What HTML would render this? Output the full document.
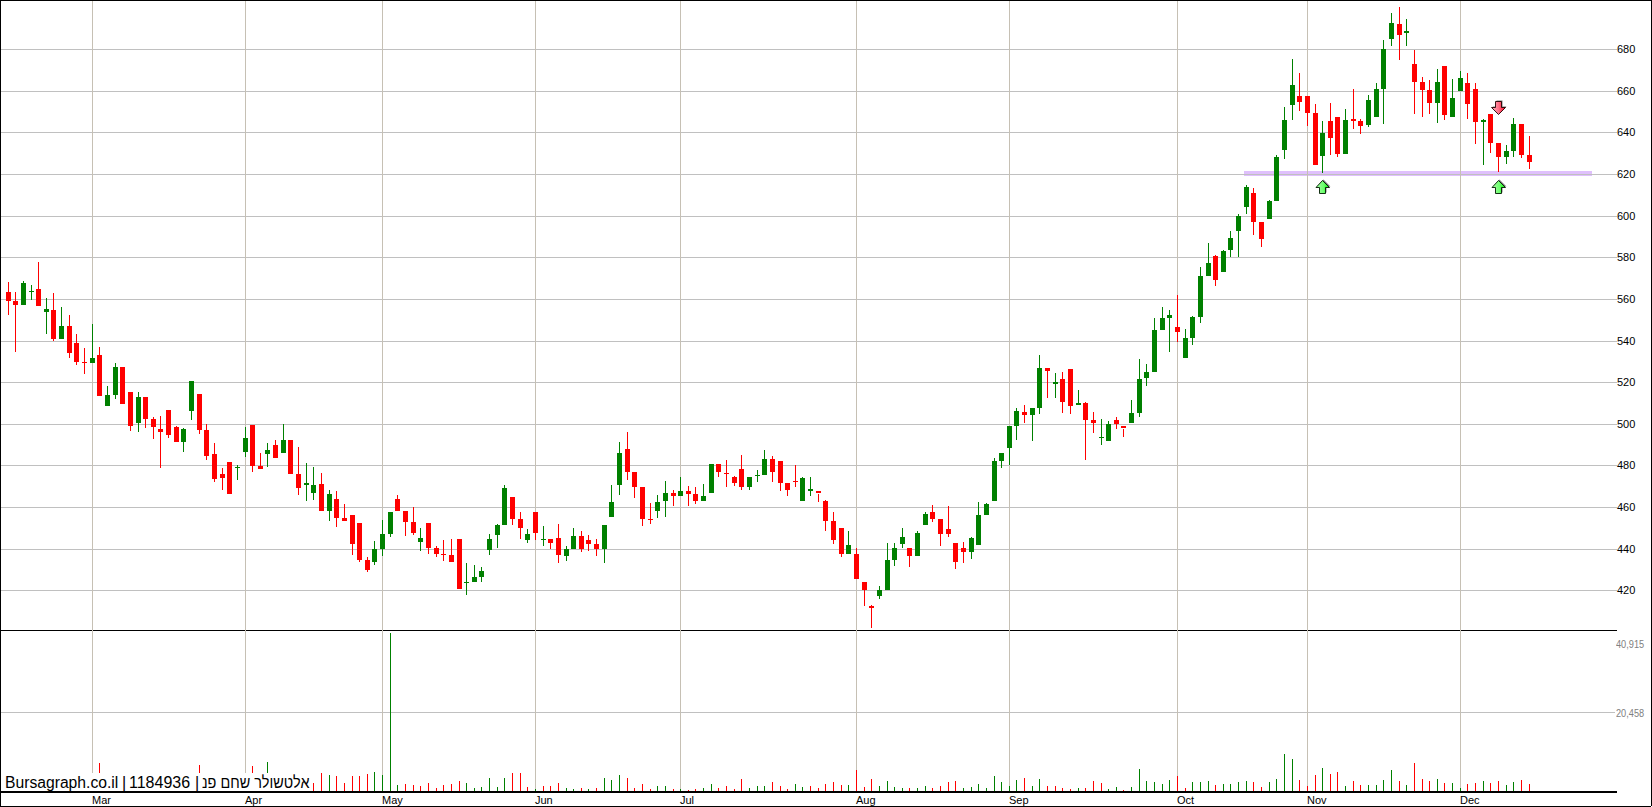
<!DOCTYPE html>
<html><head><meta charset="utf-8">
<style>
html,body{margin:0;padding:0;background:#fff;}
body{width:1652px;height:807px;position:relative;overflow:hidden;font-family:"Liberation Sans",sans-serif;}
svg{position:absolute;left:0;top:0;}
.pl{position:absolute;left:1617px;font-size:11px;line-height:14px;color:#000;white-space:nowrap;}
.vl{position:absolute;left:1616px;font-size:10px;line-height:14px;color:#808080;white-space:nowrap;transform:scaleX(0.92);transform-origin:0 0;}
.ml{position:absolute;top:794px;font-size:11px;line-height:13px;color:#000;white-space:nowrap;}
.wm{position:absolute;left:1px;top:773px;width:311px;height:18px;background:#fff;}
.wmt{position:absolute;top:773px;font-size:16px;line-height:20px;color:#000;white-space:nowrap;}
.border{position:absolute;left:0;top:0;width:1650px;height:805px;border:1px solid #000;}
.arr{position:absolute;}
</style></head><body>
<svg width="1652" height="807" shape-rendering="crispEdges">
<rect x="0" y="0" width="1652" height="807" fill="#fff"/>
<rect x="1244" y="171" width="348" height="5" fill="#dfc0fc"/>
<rect x="1" y="49" width="1616" height="1" fill="#c0c0c0"/>
<rect x="1" y="91" width="1616" height="1" fill="#c0c0c0"/>
<rect x="1" y="132" width="1616" height="1" fill="#c0c0c0"/>
<rect x="1" y="174" width="1616" height="1" fill="#c0c0c0"/>
<rect x="1" y="216" width="1616" height="1" fill="#c0c0c0"/>
<rect x="1" y="257" width="1616" height="1" fill="#c0c0c0"/>
<rect x="1" y="299" width="1616" height="1" fill="#c0c0c0"/>
<rect x="1" y="341" width="1616" height="1" fill="#c0c0c0"/>
<rect x="1" y="382" width="1616" height="1" fill="#c0c0c0"/>
<rect x="1" y="424" width="1616" height="1" fill="#c0c0c0"/>
<rect x="1" y="465" width="1616" height="1" fill="#c0c0c0"/>
<rect x="1" y="507" width="1616" height="1" fill="#c0c0c0"/>
<rect x="1" y="549" width="1616" height="1" fill="#c0c0c0"/>
<rect x="1" y="590" width="1616" height="1" fill="#c0c0c0"/>
<rect x="1" y="712" width="1614" height="1" fill="#c0c0c0"/>
<rect x="0" y="630" width="1617" height="1" fill="#000"/>
<rect x="0" y="791" width="1617" height="2" fill="#000"/>
<rect x="92" y="1" width="1" height="790" fill="#c6c0b4"/>
<rect x="245" y="1" width="1" height="790" fill="#c6c0b4"/>
<rect x="382" y="1" width="1" height="790" fill="#c6c0b4"/>
<rect x="535" y="1" width="1" height="790" fill="#c6c0b4"/>
<rect x="680" y="1" width="1" height="790" fill="#c6c0b4"/>
<rect x="856" y="1" width="1" height="790" fill="#c6c0b4"/>
<rect x="1009" y="1" width="1" height="790" fill="#c6c0b4"/>
<rect x="1177" y="1" width="1" height="790" fill="#c6c0b4"/>
<rect x="1307" y="1" width="1" height="790" fill="#c6c0b4"/>
<rect x="1460" y="1" width="1" height="790" fill="#c6c0b4"/>
<rect x="8" y="282" width="1" height="33" fill="#ff0000"/>
<rect x="6" y="292" width="5" height="9" fill="#ff0000"/>
<rect x="15" y="292" width="1" height="60" fill="#ff0000"/>
<rect x="13" y="301" width="5" height="4" fill="#ff0000"/>
<rect x="23" y="281" width="1" height="24" fill="#008000"/>
<rect x="21" y="283" width="5" height="22" fill="#008000"/>
<rect x="31" y="285" width="1" height="15" fill="#008000"/>
<rect x="29" y="291" width="5" height="1" fill="#008000"/>
<rect x="38" y="262" width="1" height="44" fill="#ff0000"/>
<rect x="36" y="289" width="5" height="17" fill="#ff0000"/>
<rect x="46" y="298" width="1" height="36" fill="#008000"/>
<rect x="44" y="309" width="5" height="3" fill="#008000"/>
<rect x="53" y="293" width="1" height="48" fill="#ff0000"/>
<rect x="51" y="310" width="5" height="29" fill="#ff0000"/>
<rect x="61" y="307" width="1" height="32" fill="#008000"/>
<rect x="59" y="326" width="5" height="13" fill="#008000"/>
<rect x="69" y="315" width="1" height="43" fill="#ff0000"/>
<rect x="67" y="326" width="5" height="27" fill="#ff0000"/>
<rect x="76" y="334" width="1" height="31" fill="#ff0000"/>
<rect x="74" y="343" width="5" height="19" fill="#ff0000"/>
<rect x="84" y="348" width="1" height="26" fill="#ff0000"/>
<rect x="82" y="362" width="5" height="1" fill="#ff0000"/>
<rect x="92" y="324" width="1" height="39" fill="#008000"/>
<rect x="90" y="358" width="5" height="5" fill="#008000"/>
<rect x="99" y="347" width="1" height="49" fill="#ff0000"/>
<rect x="97" y="355" width="5" height="41" fill="#ff0000"/>
<rect x="107" y="386" width="1" height="20" fill="#008000"/>
<rect x="105" y="395" width="5" height="11" fill="#008000"/>
<rect x="115" y="363" width="1" height="36" fill="#008000"/>
<rect x="113" y="367" width="5" height="28" fill="#008000"/>
<rect x="122" y="367" width="1" height="37" fill="#ff0000"/>
<rect x="120" y="367" width="5" height="37" fill="#ff0000"/>
<rect x="130" y="392" width="1" height="39" fill="#ff0000"/>
<rect x="128" y="392" width="5" height="34" fill="#ff0000"/>
<rect x="138" y="392" width="1" height="40" fill="#008000"/>
<rect x="136" y="397" width="5" height="26" fill="#008000"/>
<rect x="145" y="397" width="1" height="31" fill="#ff0000"/>
<rect x="143" y="397" width="5" height="22" fill="#ff0000"/>
<rect x="153" y="417" width="1" height="22" fill="#ff0000"/>
<rect x="151" y="419" width="5" height="8" fill="#ff0000"/>
<rect x="160" y="416" width="1" height="52" fill="#ff0000"/>
<rect x="158" y="429" width="5" height="3" fill="#ff0000"/>
<rect x="168" y="410" width="1" height="28" fill="#ff0000"/>
<rect x="166" y="410" width="5" height="25" fill="#ff0000"/>
<rect x="176" y="426" width="1" height="16" fill="#ff0000"/>
<rect x="174" y="427" width="5" height="15" fill="#ff0000"/>
<rect x="183" y="428" width="1" height="24" fill="#008000"/>
<rect x="181" y="429" width="5" height="13" fill="#008000"/>
<rect x="191" y="381" width="1" height="39" fill="#008000"/>
<rect x="189" y="381" width="5" height="30" fill="#008000"/>
<rect x="199" y="394" width="1" height="40" fill="#ff0000"/>
<rect x="197" y="394" width="5" height="36" fill="#ff0000"/>
<rect x="206" y="424" width="1" height="36" fill="#ff0000"/>
<rect x="204" y="430" width="5" height="26" fill="#ff0000"/>
<rect x="214" y="443" width="1" height="39" fill="#ff0000"/>
<rect x="212" y="454" width="5" height="25" fill="#ff0000"/>
<rect x="222" y="468" width="1" height="22" fill="#ff0000"/>
<rect x="220" y="474" width="5" height="4" fill="#ff0000"/>
<rect x="229" y="462" width="1" height="32" fill="#ff0000"/>
<rect x="227" y="462" width="5" height="32" fill="#ff0000"/>
<rect x="237" y="465" width="1" height="15" fill="#008000"/>
<rect x="235" y="467" width="5" height="1" fill="#008000"/>
<rect x="245" y="427" width="1" height="30" fill="#008000"/>
<rect x="243" y="438" width="5" height="14" fill="#008000"/>
<rect x="252" y="425" width="1" height="47" fill="#ff0000"/>
<rect x="250" y="425" width="5" height="41" fill="#ff0000"/>
<rect x="260" y="453" width="1" height="16" fill="#ff0000"/>
<rect x="258" y="466" width="5" height="3" fill="#ff0000"/>
<rect x="267" y="443" width="1" height="24" fill="#008000"/>
<rect x="265" y="450" width="5" height="4" fill="#008000"/>
<rect x="275" y="440" width="1" height="18" fill="#ff0000"/>
<rect x="273" y="445" width="5" height="13" fill="#ff0000"/>
<rect x="283" y="424" width="1" height="29" fill="#008000"/>
<rect x="281" y="440" width="5" height="13" fill="#008000"/>
<rect x="290" y="440" width="1" height="34" fill="#ff0000"/>
<rect x="288" y="440" width="5" height="34" fill="#ff0000"/>
<rect x="298" y="447" width="1" height="48" fill="#ff0000"/>
<rect x="296" y="474" width="5" height="14" fill="#ff0000"/>
<rect x="306" y="463" width="1" height="38" fill="#008000"/>
<rect x="304" y="483" width="5" height="2" fill="#008000"/>
<rect x="313" y="467" width="1" height="33" fill="#008000"/>
<rect x="311" y="485" width="5" height="8" fill="#008000"/>
<rect x="321" y="473" width="1" height="38" fill="#ff0000"/>
<rect x="319" y="484" width="5" height="27" fill="#ff0000"/>
<rect x="329" y="490" width="1" height="31" fill="#008000"/>
<rect x="327" y="494" width="5" height="17" fill="#008000"/>
<rect x="336" y="491" width="1" height="36" fill="#ff0000"/>
<rect x="334" y="499" width="5" height="19" fill="#ff0000"/>
<rect x="344" y="504" width="1" height="17" fill="#ff0000"/>
<rect x="342" y="518" width="5" height="3" fill="#ff0000"/>
<rect x="352" y="515" width="1" height="40" fill="#ff0000"/>
<rect x="350" y="515" width="5" height="29" fill="#ff0000"/>
<rect x="359" y="523" width="1" height="39" fill="#ff0000"/>
<rect x="357" y="523" width="5" height="37" fill="#ff0000"/>
<rect x="367" y="557" width="1" height="15" fill="#ff0000"/>
<rect x="365" y="560" width="5" height="10" fill="#ff0000"/>
<rect x="374" y="541" width="1" height="24" fill="#008000"/>
<rect x="372" y="549" width="5" height="13" fill="#008000"/>
<rect x="382" y="520" width="1" height="36" fill="#008000"/>
<rect x="380" y="534" width="5" height="15" fill="#008000"/>
<rect x="390" y="512" width="1" height="25" fill="#008000"/>
<rect x="388" y="512" width="5" height="22" fill="#008000"/>
<rect x="397" y="495" width="1" height="16" fill="#ff0000"/>
<rect x="395" y="499" width="5" height="12" fill="#ff0000"/>
<rect x="405" y="511" width="1" height="25" fill="#ff0000"/>
<rect x="403" y="511" width="5" height="11" fill="#ff0000"/>
<rect x="413" y="507" width="1" height="28" fill="#ff0000"/>
<rect x="411" y="522" width="5" height="11" fill="#ff0000"/>
<rect x="420" y="528" width="1" height="23" fill="#008000"/>
<rect x="418" y="538" width="5" height="4" fill="#008000"/>
<rect x="428" y="523" width="1" height="31" fill="#ff0000"/>
<rect x="426" y="523" width="5" height="25" fill="#ff0000"/>
<rect x="436" y="546" width="1" height="11" fill="#ff0000"/>
<rect x="434" y="548" width="5" height="6" fill="#ff0000"/>
<rect x="443" y="540" width="1" height="21" fill="#ff0000"/>
<rect x="441" y="554" width="5" height="1" fill="#ff0000"/>
<rect x="451" y="539" width="1" height="23" fill="#ff0000"/>
<rect x="449" y="555" width="5" height="7" fill="#ff0000"/>
<rect x="459" y="539" width="1" height="50" fill="#ff0000"/>
<rect x="457" y="539" width="5" height="50" fill="#ff0000"/>
<rect x="466" y="563" width="1" height="32" fill="#008000"/>
<rect x="464" y="582" width="5" height="1" fill="#008000"/>
<rect x="474" y="565" width="1" height="17" fill="#008000"/>
<rect x="472" y="577" width="5" height="5" fill="#008000"/>
<rect x="481" y="567" width="1" height="15" fill="#008000"/>
<rect x="479" y="571" width="5" height="6" fill="#008000"/>
<rect x="489" y="534" width="1" height="21" fill="#008000"/>
<rect x="487" y="539" width="5" height="11" fill="#008000"/>
<rect x="497" y="524" width="1" height="24" fill="#008000"/>
<rect x="495" y="525" width="5" height="10" fill="#008000"/>
<rect x="504" y="485" width="1" height="40" fill="#008000"/>
<rect x="502" y="488" width="5" height="37" fill="#008000"/>
<rect x="512" y="497" width="1" height="28" fill="#ff0000"/>
<rect x="510" y="497" width="5" height="22" fill="#ff0000"/>
<rect x="520" y="512" width="1" height="27" fill="#ff0000"/>
<rect x="518" y="519" width="5" height="9" fill="#ff0000"/>
<rect x="527" y="529" width="1" height="14" fill="#008000"/>
<rect x="525" y="534" width="5" height="6" fill="#008000"/>
<rect x="535" y="512" width="1" height="28" fill="#ff0000"/>
<rect x="533" y="512" width="5" height="21" fill="#ff0000"/>
<rect x="543" y="526" width="1" height="20" fill="#008000"/>
<rect x="541" y="539" width="5" height="1" fill="#008000"/>
<rect x="550" y="539" width="1" height="10" fill="#ff0000"/>
<rect x="548" y="539" width="5" height="4" fill="#ff0000"/>
<rect x="558" y="524" width="1" height="39" fill="#ff0000"/>
<rect x="556" y="538" width="5" height="17" fill="#ff0000"/>
<rect x="566" y="546" width="1" height="15" fill="#008000"/>
<rect x="564" y="549" width="5" height="7" fill="#008000"/>
<rect x="573" y="528" width="1" height="21" fill="#008000"/>
<rect x="571" y="536" width="5" height="13" fill="#008000"/>
<rect x="581" y="531" width="1" height="21" fill="#ff0000"/>
<rect x="579" y="536" width="5" height="13" fill="#ff0000"/>
<rect x="588" y="535" width="1" height="16" fill="#ff0000"/>
<rect x="586" y="540" width="5" height="4" fill="#ff0000"/>
<rect x="596" y="539" width="1" height="17" fill="#ff0000"/>
<rect x="594" y="544" width="5" height="5" fill="#ff0000"/>
<rect x="604" y="525" width="1" height="38" fill="#008000"/>
<rect x="602" y="525" width="5" height="24" fill="#008000"/>
<rect x="611" y="485" width="1" height="32" fill="#008000"/>
<rect x="609" y="502" width="5" height="15" fill="#008000"/>
<rect x="619" y="442" width="1" height="53" fill="#008000"/>
<rect x="617" y="453" width="5" height="32" fill="#008000"/>
<rect x="627" y="432" width="1" height="48" fill="#ff0000"/>
<rect x="625" y="449" width="5" height="23" fill="#ff0000"/>
<rect x="634" y="472" width="1" height="26" fill="#ff0000"/>
<rect x="632" y="472" width="5" height="15" fill="#ff0000"/>
<rect x="642" y="487" width="1" height="39" fill="#ff0000"/>
<rect x="640" y="487" width="5" height="32" fill="#ff0000"/>
<rect x="650" y="503" width="1" height="21" fill="#ff0000"/>
<rect x="648" y="519" width="5" height="1" fill="#ff0000"/>
<rect x="657" y="495" width="1" height="23" fill="#008000"/>
<rect x="655" y="502" width="5" height="9" fill="#008000"/>
<rect x="665" y="481" width="1" height="36" fill="#008000"/>
<rect x="663" y="493" width="5" height="8" fill="#008000"/>
<rect x="673" y="490" width="1" height="16" fill="#ff0000"/>
<rect x="671" y="493" width="5" height="3" fill="#ff0000"/>
<rect x="680" y="477" width="1" height="19" fill="#008000"/>
<rect x="678" y="491" width="5" height="5" fill="#008000"/>
<rect x="688" y="486" width="1" height="20" fill="#ff0000"/>
<rect x="686" y="491" width="5" height="3" fill="#ff0000"/>
<rect x="695" y="487" width="1" height="17" fill="#ff0000"/>
<rect x="693" y="494" width="5" height="7" fill="#ff0000"/>
<rect x="703" y="484" width="1" height="17" fill="#008000"/>
<rect x="701" y="496" width="5" height="5" fill="#008000"/>
<rect x="711" y="464" width="1" height="29" fill="#008000"/>
<rect x="709" y="464" width="5" height="29" fill="#008000"/>
<rect x="718" y="464" width="1" height="13" fill="#ff0000"/>
<rect x="716" y="464" width="5" height="8" fill="#ff0000"/>
<rect x="726" y="460" width="1" height="27" fill="#ff0000"/>
<rect x="724" y="473" width="5" height="1" fill="#ff0000"/>
<rect x="734" y="476" width="1" height="10" fill="#ff0000"/>
<rect x="732" y="477" width="5" height="6" fill="#ff0000"/>
<rect x="741" y="455" width="1" height="35" fill="#ff0000"/>
<rect x="739" y="469" width="5" height="18" fill="#ff0000"/>
<rect x="749" y="477" width="1" height="13" fill="#008000"/>
<rect x="747" y="477" width="5" height="10" fill="#008000"/>
<rect x="757" y="470" width="1" height="12" fill="#008000"/>
<rect x="755" y="475" width="5" height="1" fill="#008000"/>
<rect x="764" y="450" width="1" height="25" fill="#008000"/>
<rect x="762" y="459" width="5" height="16" fill="#008000"/>
<rect x="772" y="456" width="1" height="26" fill="#ff0000"/>
<rect x="770" y="459" width="5" height="13" fill="#ff0000"/>
<rect x="780" y="461" width="1" height="30" fill="#ff0000"/>
<rect x="778" y="461" width="5" height="22" fill="#ff0000"/>
<rect x="787" y="483" width="1" height="13" fill="#ff0000"/>
<rect x="785" y="483" width="5" height="7" fill="#ff0000"/>
<rect x="795" y="465" width="1" height="22" fill="#ff0000"/>
<rect x="793" y="481" width="5" height="1" fill="#ff0000"/>
<rect x="802" y="477" width="1" height="24" fill="#008000"/>
<rect x="800" y="478" width="5" height="23" fill="#008000"/>
<rect x="810" y="477" width="1" height="19" fill="#008000"/>
<rect x="808" y="489" width="5" height="2" fill="#008000"/>
<rect x="818" y="494" width="1" height="8" fill="#ff0000"/>
<rect x="816" y="491" width="5" height="2" fill="#ff0000"/>
<rect x="825" y="500" width="1" height="31" fill="#ff0000"/>
<rect x="823" y="501" width="5" height="20" fill="#ff0000"/>
<rect x="833" y="512" width="1" height="32" fill="#ff0000"/>
<rect x="831" y="521" width="5" height="19" fill="#ff0000"/>
<rect x="841" y="528" width="1" height="29" fill="#ff0000"/>
<rect x="839" y="528" width="5" height="26" fill="#ff0000"/>
<rect x="848" y="531" width="1" height="23" fill="#008000"/>
<rect x="846" y="545" width="5" height="9" fill="#008000"/>
<rect x="856" y="548" width="1" height="31" fill="#ff0000"/>
<rect x="854" y="554" width="5" height="25" fill="#ff0000"/>
<rect x="864" y="582" width="1" height="24" fill="#ff0000"/>
<rect x="862" y="582" width="5" height="8" fill="#ff0000"/>
<rect x="871" y="605" width="1" height="23" fill="#ff0000"/>
<rect x="869" y="606" width="5" height="2" fill="#ff0000"/>
<rect x="879" y="586" width="1" height="13" fill="#008000"/>
<rect x="877" y="590" width="5" height="6" fill="#008000"/>
<rect x="887" y="543" width="1" height="47" fill="#008000"/>
<rect x="885" y="560" width="5" height="30" fill="#008000"/>
<rect x="894" y="543" width="1" height="23" fill="#008000"/>
<rect x="892" y="548" width="5" height="12" fill="#008000"/>
<rect x="902" y="528" width="1" height="20" fill="#008000"/>
<rect x="900" y="537" width="5" height="7" fill="#008000"/>
<rect x="909" y="548" width="1" height="19" fill="#ff0000"/>
<rect x="907" y="548" width="5" height="8" fill="#ff0000"/>
<rect x="917" y="531" width="1" height="25" fill="#008000"/>
<rect x="915" y="533" width="5" height="23" fill="#008000"/>
<rect x="925" y="512" width="1" height="13" fill="#008000"/>
<rect x="923" y="514" width="5" height="11" fill="#008000"/>
<rect x="932" y="505" width="1" height="17" fill="#ff0000"/>
<rect x="930" y="512" width="5" height="7" fill="#ff0000"/>
<rect x="940" y="519" width="1" height="27" fill="#ff0000"/>
<rect x="938" y="519" width="5" height="15" fill="#ff0000"/>
<rect x="948" y="506" width="1" height="31" fill="#ff0000"/>
<rect x="946" y="529" width="5" height="5" fill="#ff0000"/>
<rect x="955" y="543" width="1" height="26" fill="#ff0000"/>
<rect x="953" y="543" width="5" height="19" fill="#ff0000"/>
<rect x="963" y="542" width="1" height="21" fill="#ff0000"/>
<rect x="961" y="548" width="5" height="4" fill="#ff0000"/>
<rect x="971" y="537" width="1" height="22" fill="#008000"/>
<rect x="969" y="538" width="5" height="14" fill="#008000"/>
<rect x="978" y="502" width="1" height="43" fill="#008000"/>
<rect x="976" y="515" width="5" height="30" fill="#008000"/>
<rect x="986" y="503" width="1" height="12" fill="#008000"/>
<rect x="984" y="504" width="5" height="11" fill="#008000"/>
<rect x="994" y="458" width="1" height="43" fill="#008000"/>
<rect x="992" y="461" width="5" height="40" fill="#008000"/>
<rect x="1001" y="453" width="1" height="15" fill="#008000"/>
<rect x="999" y="453" width="5" height="8" fill="#008000"/>
<rect x="1009" y="426" width="1" height="39" fill="#008000"/>
<rect x="1007" y="426" width="5" height="22" fill="#008000"/>
<rect x="1016" y="408" width="1" height="32" fill="#008000"/>
<rect x="1014" y="411" width="5" height="15" fill="#008000"/>
<rect x="1024" y="405" width="1" height="18" fill="#ff0000"/>
<rect x="1022" y="412" width="5" height="3" fill="#ff0000"/>
<rect x="1032" y="408" width="1" height="33" fill="#008000"/>
<rect x="1030" y="408" width="5" height="7" fill="#008000"/>
<rect x="1039" y="355" width="1" height="59" fill="#008000"/>
<rect x="1037" y="368" width="5" height="40" fill="#008000"/>
<rect x="1047" y="368" width="1" height="30" fill="#ff0000"/>
<rect x="1045" y="368" width="5" height="3" fill="#ff0000"/>
<rect x="1055" y="373" width="1" height="25" fill="#008000"/>
<rect x="1053" y="382" width="5" height="2" fill="#008000"/>
<rect x="1062" y="372" width="1" height="41" fill="#ff0000"/>
<rect x="1060" y="379" width="5" height="23" fill="#ff0000"/>
<rect x="1070" y="369" width="1" height="45" fill="#ff0000"/>
<rect x="1068" y="369" width="5" height="37" fill="#ff0000"/>
<rect x="1078" y="390" width="1" height="15" fill="#008000"/>
<rect x="1076" y="403" width="5" height="2" fill="#008000"/>
<rect x="1085" y="402" width="1" height="58" fill="#ff0000"/>
<rect x="1083" y="403" width="5" height="17" fill="#ff0000"/>
<rect x="1093" y="412" width="1" height="21" fill="#ff0000"/>
<rect x="1091" y="420" width="5" height="3" fill="#ff0000"/>
<rect x="1101" y="419" width="1" height="26" fill="#008000"/>
<rect x="1099" y="437" width="5" height="1" fill="#008000"/>
<rect x="1108" y="421" width="1" height="20" fill="#008000"/>
<rect x="1106" y="424" width="5" height="17" fill="#008000"/>
<rect x="1116" y="417" width="1" height="12" fill="#ff0000"/>
<rect x="1114" y="420" width="5" height="4" fill="#ff0000"/>
<rect x="1123" y="429" width="1" height="8" fill="#ff0000"/>
<rect x="1121" y="426" width="5" height="2" fill="#ff0000"/>
<rect x="1131" y="400" width="1" height="23" fill="#008000"/>
<rect x="1129" y="413" width="5" height="10" fill="#008000"/>
<rect x="1139" y="359" width="1" height="58" fill="#008000"/>
<rect x="1137" y="379" width="5" height="34" fill="#008000"/>
<rect x="1146" y="364" width="1" height="22" fill="#008000"/>
<rect x="1144" y="372" width="5" height="6" fill="#008000"/>
<rect x="1154" y="318" width="1" height="54" fill="#008000"/>
<rect x="1152" y="330" width="5" height="42" fill="#008000"/>
<rect x="1162" y="307" width="1" height="23" fill="#008000"/>
<rect x="1160" y="318" width="5" height="12" fill="#008000"/>
<rect x="1169" y="310" width="1" height="42" fill="#008000"/>
<rect x="1167" y="315" width="5" height="3" fill="#008000"/>
<rect x="1177" y="295" width="1" height="47" fill="#ff0000"/>
<rect x="1175" y="327" width="5" height="5" fill="#ff0000"/>
<rect x="1185" y="329" width="1" height="29" fill="#008000"/>
<rect x="1183" y="338" width="5" height="20" fill="#008000"/>
<rect x="1192" y="316" width="1" height="29" fill="#008000"/>
<rect x="1190" y="317" width="5" height="21" fill="#008000"/>
<rect x="1200" y="267" width="1" height="56" fill="#008000"/>
<rect x="1198" y="276" width="5" height="41" fill="#008000"/>
<rect x="1208" y="243" width="1" height="33" fill="#008000"/>
<rect x="1206" y="263" width="5" height="13" fill="#008000"/>
<rect x="1215" y="255" width="1" height="31" fill="#ff0000"/>
<rect x="1213" y="256" width="5" height="24" fill="#ff0000"/>
<rect x="1223" y="250" width="1" height="22" fill="#008000"/>
<rect x="1221" y="251" width="5" height="21" fill="#008000"/>
<rect x="1230" y="231" width="1" height="26" fill="#008000"/>
<rect x="1228" y="238" width="5" height="12" fill="#008000"/>
<rect x="1238" y="214" width="1" height="43" fill="#008000"/>
<rect x="1236" y="216" width="5" height="15" fill="#008000"/>
<rect x="1246" y="185" width="1" height="29" fill="#008000"/>
<rect x="1244" y="187" width="5" height="20" fill="#008000"/>
<rect x="1253" y="188" width="1" height="47" fill="#ff0000"/>
<rect x="1251" y="193" width="5" height="29" fill="#ff0000"/>
<rect x="1261" y="222" width="1" height="25" fill="#ff0000"/>
<rect x="1259" y="222" width="5" height="17" fill="#ff0000"/>
<rect x="1269" y="200" width="1" height="19" fill="#008000"/>
<rect x="1267" y="201" width="5" height="18" fill="#008000"/>
<rect x="1276" y="155" width="1" height="46" fill="#008000"/>
<rect x="1274" y="157" width="5" height="44" fill="#008000"/>
<rect x="1284" y="107" width="1" height="52" fill="#008000"/>
<rect x="1282" y="120" width="5" height="30" fill="#008000"/>
<rect x="1292" y="59" width="1" height="61" fill="#008000"/>
<rect x="1290" y="85" width="5" height="20" fill="#008000"/>
<rect x="1299" y="73" width="1" height="38" fill="#ff0000"/>
<rect x="1297" y="96" width="5" height="6" fill="#ff0000"/>
<rect x="1307" y="96" width="1" height="30" fill="#ff0000"/>
<rect x="1305" y="96" width="5" height="17" fill="#ff0000"/>
<rect x="1315" y="104" width="1" height="61" fill="#ff0000"/>
<rect x="1313" y="113" width="5" height="52" fill="#ff0000"/>
<rect x="1322" y="121" width="1" height="52" fill="#008000"/>
<rect x="1320" y="133" width="5" height="23" fill="#008000"/>
<rect x="1330" y="103" width="1" height="52" fill="#ff0000"/>
<rect x="1328" y="121" width="5" height="17" fill="#ff0000"/>
<rect x="1337" y="117" width="1" height="40" fill="#ff0000"/>
<rect x="1335" y="117" width="5" height="37" fill="#ff0000"/>
<rect x="1345" y="109" width="1" height="45" fill="#008000"/>
<rect x="1343" y="120" width="5" height="34" fill="#008000"/>
<rect x="1353" y="89" width="1" height="40" fill="#ff0000"/>
<rect x="1351" y="119" width="5" height="2" fill="#ff0000"/>
<rect x="1360" y="119" width="1" height="15" fill="#ff0000"/>
<rect x="1358" y="121" width="5" height="5" fill="#ff0000"/>
<rect x="1368" y="95" width="1" height="32" fill="#008000"/>
<rect x="1366" y="100" width="5" height="25" fill="#008000"/>
<rect x="1376" y="83" width="1" height="34" fill="#008000"/>
<rect x="1374" y="89" width="5" height="28" fill="#008000"/>
<rect x="1383" y="40" width="1" height="84" fill="#008000"/>
<rect x="1381" y="49" width="5" height="40" fill="#008000"/>
<rect x="1391" y="13" width="1" height="33" fill="#008000"/>
<rect x="1389" y="23" width="5" height="16" fill="#008000"/>
<rect x="1399" y="7" width="1" height="53" fill="#ff0000"/>
<rect x="1397" y="24" width="5" height="11" fill="#ff0000"/>
<rect x="1406" y="19" width="1" height="27" fill="#008000"/>
<rect x="1404" y="31" width="5" height="2" fill="#008000"/>
<rect x="1414" y="50" width="1" height="64" fill="#ff0000"/>
<rect x="1412" y="64" width="5" height="18" fill="#ff0000"/>
<rect x="1422" y="77" width="1" height="40" fill="#ff0000"/>
<rect x="1420" y="82" width="5" height="8" fill="#ff0000"/>
<rect x="1429" y="80" width="1" height="34" fill="#ff0000"/>
<rect x="1427" y="90" width="5" height="13" fill="#ff0000"/>
<rect x="1437" y="69" width="1" height="54" fill="#008000"/>
<rect x="1435" y="82" width="5" height="21" fill="#008000"/>
<rect x="1444" y="66" width="1" height="54" fill="#ff0000"/>
<rect x="1442" y="66" width="5" height="49" fill="#ff0000"/>
<rect x="1452" y="79" width="1" height="38" fill="#008000"/>
<rect x="1450" y="98" width="5" height="19" fill="#008000"/>
<rect x="1460" y="71" width="1" height="20" fill="#008000"/>
<rect x="1458" y="78" width="5" height="13" fill="#008000"/>
<rect x="1467" y="73" width="1" height="46" fill="#ff0000"/>
<rect x="1465" y="83" width="5" height="21" fill="#ff0000"/>
<rect x="1475" y="83" width="1" height="61" fill="#ff0000"/>
<rect x="1473" y="89" width="5" height="33" fill="#ff0000"/>
<rect x="1483" y="119" width="1" height="46" fill="#008000"/>
<rect x="1481" y="120" width="5" height="2" fill="#008000"/>
<rect x="1490" y="114" width="1" height="39" fill="#ff0000"/>
<rect x="1488" y="114" width="5" height="29" fill="#ff0000"/>
<rect x="1498" y="143" width="1" height="29" fill="#ff0000"/>
<rect x="1496" y="143" width="5" height="14" fill="#ff0000"/>
<rect x="1506" y="145" width="1" height="19" fill="#008000"/>
<rect x="1504" y="151" width="5" height="6" fill="#008000"/>
<rect x="1513" y="118" width="1" height="39" fill="#008000"/>
<rect x="1511" y="124" width="5" height="27" fill="#008000"/>
<rect x="1521" y="124" width="1" height="34" fill="#ff0000"/>
<rect x="1519" y="124" width="5" height="31" fill="#ff0000"/>
<rect x="1529" y="136" width="1" height="33" fill="#ff0000"/>
<rect x="1527" y="155" width="5" height="7" fill="#ff0000"/>
<rect x="99" y="763" width="1" height="28" fill="#ff0000"/>
<rect x="199" y="765" width="1" height="26" fill="#ff0000"/>
<rect x="252" y="766" width="1" height="25" fill="#ff0000"/>
<rect x="267" y="762" width="1" height="29" fill="#008000"/>
<rect x="313" y="783" width="1" height="8" fill="#ff0000"/>
<rect x="321" y="773" width="1" height="18" fill="#ff0000"/>
<rect x="329" y="775" width="1" height="16" fill="#008000"/>
<rect x="336" y="776" width="1" height="15" fill="#ff0000"/>
<rect x="344" y="783" width="1" height="8" fill="#ff0000"/>
<rect x="352" y="776" width="1" height="15" fill="#ff0000"/>
<rect x="359" y="776" width="1" height="15" fill="#ff0000"/>
<rect x="367" y="774" width="1" height="17" fill="#ff0000"/>
<rect x="374" y="772" width="1" height="19" fill="#008000"/>
<rect x="382" y="775" width="1" height="16" fill="#008000"/>
<rect x="390" y="633" width="1" height="158" fill="#008000"/>
<rect x="397" y="785" width="1" height="6" fill="#008000"/>
<rect x="405" y="784" width="1" height="7" fill="#ff0000"/>
<rect x="413" y="785" width="1" height="6" fill="#ff0000"/>
<rect x="420" y="786" width="1" height="5" fill="#ff0000"/>
<rect x="428" y="783" width="1" height="8" fill="#ff0000"/>
<rect x="436" y="788" width="1" height="3" fill="#ff0000"/>
<rect x="443" y="785" width="1" height="6" fill="#ff0000"/>
<rect x="451" y="784" width="1" height="7" fill="#ff0000"/>
<rect x="459" y="781" width="1" height="10" fill="#ff0000"/>
<rect x="466" y="783" width="1" height="8" fill="#008000"/>
<rect x="474" y="788" width="1" height="3" fill="#008000"/>
<rect x="481" y="787" width="1" height="4" fill="#008000"/>
<rect x="489" y="778" width="1" height="13" fill="#008000"/>
<rect x="497" y="787" width="1" height="4" fill="#008000"/>
<rect x="504" y="778" width="1" height="13" fill="#008000"/>
<rect x="512" y="773" width="1" height="18" fill="#ff0000"/>
<rect x="520" y="773" width="1" height="18" fill="#ff0000"/>
<rect x="527" y="787" width="1" height="4" fill="#ff0000"/>
<rect x="535" y="789" width="1" height="2" fill="#008000"/>
<rect x="543" y="786" width="1" height="5" fill="#ff0000"/>
<rect x="550" y="786" width="1" height="5" fill="#ff0000"/>
<rect x="558" y="783" width="1" height="8" fill="#ff0000"/>
<rect x="566" y="788" width="1" height="3" fill="#008000"/>
<rect x="573" y="789" width="1" height="2" fill="#008000"/>
<rect x="581" y="788" width="1" height="3" fill="#ff0000"/>
<rect x="588" y="789" width="1" height="2" fill="#008000"/>
<rect x="596" y="788" width="1" height="3" fill="#ff0000"/>
<rect x="604" y="778" width="1" height="13" fill="#008000"/>
<rect x="611" y="780" width="1" height="11" fill="#008000"/>
<rect x="619" y="775" width="1" height="16" fill="#008000"/>
<rect x="627" y="778" width="1" height="13" fill="#ff0000"/>
<rect x="634" y="788" width="1" height="3" fill="#ff0000"/>
<rect x="642" y="784" width="1" height="7" fill="#ff0000"/>
<rect x="650" y="789" width="1" height="2" fill="#ff0000"/>
<rect x="657" y="786" width="1" height="5" fill="#008000"/>
<rect x="665" y="786" width="1" height="5" fill="#008000"/>
<rect x="673" y="789" width="1" height="2" fill="#ff0000"/>
<rect x="680" y="789" width="1" height="2" fill="#008000"/>
<rect x="688" y="790" width="1" height="1" fill="#ff0000"/>
<rect x="695" y="789" width="1" height="2" fill="#ff0000"/>
<rect x="703" y="788" width="1" height="3" fill="#008000"/>
<rect x="711" y="784" width="1" height="7" fill="#008000"/>
<rect x="718" y="788" width="1" height="3" fill="#ff0000"/>
<rect x="726" y="786" width="1" height="5" fill="#ff0000"/>
<rect x="734" y="789" width="1" height="2" fill="#ff0000"/>
<rect x="741" y="779" width="1" height="12" fill="#ff0000"/>
<rect x="749" y="788" width="1" height="3" fill="#008000"/>
<rect x="757" y="786" width="1" height="5" fill="#008000"/>
<rect x="764" y="786" width="1" height="5" fill="#008000"/>
<rect x="772" y="782" width="1" height="9" fill="#ff0000"/>
<rect x="780" y="786" width="1" height="5" fill="#ff0000"/>
<rect x="787" y="789" width="1" height="2" fill="#ff0000"/>
<rect x="795" y="784" width="1" height="7" fill="#008000"/>
<rect x="802" y="787" width="1" height="4" fill="#008000"/>
<rect x="810" y="786" width="1" height="5" fill="#ff0000"/>
<rect x="818" y="788" width="1" height="3" fill="#ff0000"/>
<rect x="825" y="784" width="1" height="7" fill="#ff0000"/>
<rect x="833" y="782" width="1" height="9" fill="#ff0000"/>
<rect x="841" y="785" width="1" height="6" fill="#ff0000"/>
<rect x="848" y="785" width="1" height="6" fill="#008000"/>
<rect x="856" y="770" width="1" height="21" fill="#ff0000"/>
<rect x="864" y="787" width="1" height="4" fill="#ff0000"/>
<rect x="871" y="779" width="1" height="12" fill="#ff0000"/>
<rect x="879" y="786" width="1" height="5" fill="#008000"/>
<rect x="887" y="781" width="1" height="10" fill="#008000"/>
<rect x="894" y="787" width="1" height="4" fill="#008000"/>
<rect x="902" y="788" width="1" height="3" fill="#008000"/>
<rect x="909" y="788" width="1" height="3" fill="#ff0000"/>
<rect x="917" y="788" width="1" height="3" fill="#008000"/>
<rect x="925" y="786" width="1" height="5" fill="#008000"/>
<rect x="932" y="788" width="1" height="3" fill="#ff0000"/>
<rect x="940" y="786" width="1" height="5" fill="#ff0000"/>
<rect x="948" y="782" width="1" height="9" fill="#ff0000"/>
<rect x="955" y="781" width="1" height="10" fill="#ff0000"/>
<rect x="963" y="788" width="1" height="3" fill="#008000"/>
<rect x="971" y="787" width="1" height="4" fill="#008000"/>
<rect x="978" y="784" width="1" height="7" fill="#008000"/>
<rect x="986" y="788" width="1" height="3" fill="#008000"/>
<rect x="994" y="776" width="1" height="15" fill="#008000"/>
<rect x="1001" y="782" width="1" height="9" fill="#008000"/>
<rect x="1009" y="786" width="1" height="5" fill="#008000"/>
<rect x="1016" y="780" width="1" height="11" fill="#008000"/>
<rect x="1024" y="778" width="1" height="13" fill="#ff0000"/>
<rect x="1032" y="786" width="1" height="5" fill="#008000"/>
<rect x="1039" y="779" width="1" height="12" fill="#008000"/>
<rect x="1047" y="786" width="1" height="5" fill="#ff0000"/>
<rect x="1055" y="786" width="1" height="5" fill="#ff0000"/>
<rect x="1062" y="788" width="1" height="3" fill="#ff0000"/>
<rect x="1070" y="789" width="1" height="2" fill="#ff0000"/>
<rect x="1078" y="788" width="1" height="3" fill="#008000"/>
<rect x="1085" y="788" width="1" height="3" fill="#ff0000"/>
<rect x="1093" y="781" width="1" height="10" fill="#ff0000"/>
<rect x="1101" y="783" width="1" height="8" fill="#ff0000"/>
<rect x="1108" y="789" width="1" height="2" fill="#008000"/>
<rect x="1116" y="787" width="1" height="4" fill="#008000"/>
<rect x="1123" y="790" width="1" height="1" fill="#ff0000"/>
<rect x="1131" y="787" width="1" height="4" fill="#008000"/>
<rect x="1139" y="769" width="1" height="22" fill="#008000"/>
<rect x="1146" y="781" width="1" height="10" fill="#008000"/>
<rect x="1154" y="782" width="1" height="9" fill="#008000"/>
<rect x="1162" y="784" width="1" height="7" fill="#008000"/>
<rect x="1169" y="780" width="1" height="11" fill="#008000"/>
<rect x="1177" y="776" width="1" height="15" fill="#ff0000"/>
<rect x="1185" y="788" width="1" height="3" fill="#ff0000"/>
<rect x="1192" y="782" width="1" height="9" fill="#008000"/>
<rect x="1200" y="782" width="1" height="9" fill="#008000"/>
<rect x="1208" y="781" width="1" height="10" fill="#008000"/>
<rect x="1215" y="785" width="1" height="6" fill="#ff0000"/>
<rect x="1223" y="784" width="1" height="7" fill="#008000"/>
<rect x="1230" y="784" width="1" height="7" fill="#008000"/>
<rect x="1238" y="782" width="1" height="9" fill="#008000"/>
<rect x="1246" y="781" width="1" height="10" fill="#008000"/>
<rect x="1253" y="782" width="1" height="9" fill="#ff0000"/>
<rect x="1261" y="787" width="1" height="4" fill="#ff0000"/>
<rect x="1269" y="782" width="1" height="9" fill="#008000"/>
<rect x="1276" y="779" width="1" height="12" fill="#008000"/>
<rect x="1284" y="754" width="1" height="37" fill="#008000"/>
<rect x="1292" y="759" width="1" height="32" fill="#008000"/>
<rect x="1299" y="780" width="1" height="11" fill="#ff0000"/>
<rect x="1307" y="786" width="1" height="5" fill="#ff0000"/>
<rect x="1315" y="775" width="1" height="16" fill="#ff0000"/>
<rect x="1322" y="768" width="1" height="23" fill="#008000"/>
<rect x="1330" y="774" width="1" height="17" fill="#ff0000"/>
<rect x="1337" y="772" width="1" height="19" fill="#ff0000"/>
<rect x="1345" y="786" width="1" height="5" fill="#008000"/>
<rect x="1353" y="781" width="1" height="10" fill="#ff0000"/>
<rect x="1360" y="785" width="1" height="6" fill="#ff0000"/>
<rect x="1368" y="785" width="1" height="6" fill="#008000"/>
<rect x="1376" y="785" width="1" height="6" fill="#008000"/>
<rect x="1383" y="780" width="1" height="11" fill="#008000"/>
<rect x="1391" y="770" width="1" height="21" fill="#008000"/>
<rect x="1399" y="781" width="1" height="10" fill="#ff0000"/>
<rect x="1406" y="785" width="1" height="6" fill="#008000"/>
<rect x="1414" y="763" width="1" height="28" fill="#ff0000"/>
<rect x="1422" y="779" width="1" height="12" fill="#ff0000"/>
<rect x="1429" y="781" width="1" height="10" fill="#ff0000"/>
<rect x="1437" y="779" width="1" height="12" fill="#008000"/>
<rect x="1444" y="783" width="1" height="8" fill="#ff0000"/>
<rect x="1452" y="783" width="1" height="8" fill="#008000"/>
<rect x="1460" y="788" width="1" height="3" fill="#008000"/>
<rect x="1467" y="784" width="1" height="7" fill="#ff0000"/>
<rect x="1475" y="783" width="1" height="8" fill="#ff0000"/>
<rect x="1483" y="781" width="1" height="10" fill="#008000"/>
<rect x="1490" y="783" width="1" height="8" fill="#ff0000"/>
<rect x="1498" y="781" width="1" height="10" fill="#ff0000"/>
<rect x="1506" y="785" width="1" height="6" fill="#008000"/>
<rect x="1513" y="782" width="1" height="9" fill="#008000"/>
<rect x="1521" y="780" width="1" height="11" fill="#ff0000"/>
<rect x="1529" y="784" width="1" height="7" fill="#ff0000"/>
</svg>
<div class="pl" style="top:42px">680</div><div class="pl" style="top:84px">660</div><div class="pl" style="top:125px">640</div><div class="pl" style="top:167px">620</div><div class="pl" style="top:209px">600</div><div class="pl" style="top:250px">580</div><div class="pl" style="top:292px">560</div><div class="pl" style="top:334px">540</div><div class="pl" style="top:375px">520</div><div class="pl" style="top:417px">500</div><div class="pl" style="top:458px">480</div><div class="pl" style="top:500px">460</div><div class="pl" style="top:542px">440</div><div class="pl" style="top:583px">420</div><div class="vl" style="top:638px">40,915</div><div class="vl" style="top:707px">20,458</div><div class="ml" style="left:92px">Mar</div><div class="ml" style="left:245px">Apr</div><div class="ml" style="left:382px">May</div><div class="ml" style="left:535px">Jun</div><div class="ml" style="left:680px">Jul</div><div class="ml" style="left:856px">Aug</div><div class="ml" style="left:1009px">Sep</div><div class="ml" style="left:1177px">Oct</div><div class="ml" style="left:1307px">Nov</div><div class="ml" style="left:1460px">Dec</div>
<div class="wm"></div>
<div class="wmt" style="left:5px;transform:scaleX(0.98);transform-origin:0 0">Bursagraph.co.il</div>
<div class="wmt" style="left:122px">|</div>
<div class="wmt" style="left:129px">1184936</div>
<div class="wmt" style="left:195px">|</div>
<div class="wmt" style="left:202px;transform:scaleX(0.9);transform-origin:0 0">אלטשולר שחם פנ</div>
<svg class="arr" style="left:0;top:0" width="1652" height="807">
<defs>
<linearGradient id="gg" x1="0" x2="1" y1="0" y2="0"><stop offset="0" stop-color="#a8ffa8"/><stop offset="0.55" stop-color="#70ff70"/><stop offset="1" stop-color="#00f000"/></linearGradient>
<linearGradient id="rg" x1="0" x2="1" y1="0" y2="0"><stop offset="0" stop-color="#ffb0bc"/><stop offset="0.5" stop-color="#ff7088"/><stop offset="1" stop-color="#ff0020"/></linearGradient>
</defs>
<path d="M1323.5 179.5 L1317.0 186.5 L1320.5 186.5 L1320.5 192.5 L1326.5 192.5 L1326.5 186.5 L1330.5 186.5 Z" fill="#505050" opacity="0.75"/>
<path d="M1322.5 180.5 L1316.0 187.5 L1319.5 187.5 L1319.5 193.5 L1325.5 193.5 L1325.5 187.5 L1329.5 187.5 Z" fill="url(#gg)" stroke="#001800" stroke-width="0.9"/>
<path d="M1499.5 179.5 L1493.0 186.5 L1496.5 186.5 L1496.5 192.5 L1502.5 192.5 L1502.5 186.5 L1506.5 186.5 Z" fill="#505050" opacity="0.75"/>
<path d="M1498.5 180.5 L1492.0 187.5 L1495.5 187.5 L1495.5 193.5 L1501.5 193.5 L1501.5 187.5 L1505.5 187.5 Z" fill="url(#gg)" stroke="#001800" stroke-width="0.9"/>
<path d="M1496.5 100.5 L1502.5 100.5 L1502.5 106.5 L1506.5 106.5 L1499.5 113.5 L1492.5 106.5 L1496.5 106.5 Z" fill="#505050" opacity="0.75"/>
<path d="M1495.5 101.5 L1501.5 101.5 L1501.5 107.5 L1505.5 107.5 L1498.5 114.5 L1491.5 107.5 L1495.5 107.5 Z" fill="url(#rg)" stroke="#200000" stroke-width="0.9"/>
</svg>
<div class="border"></div>
<div style="position:absolute;left:1651px;top:806px;width:1px;height:1px;background:#fff"></div>
</body></html>
